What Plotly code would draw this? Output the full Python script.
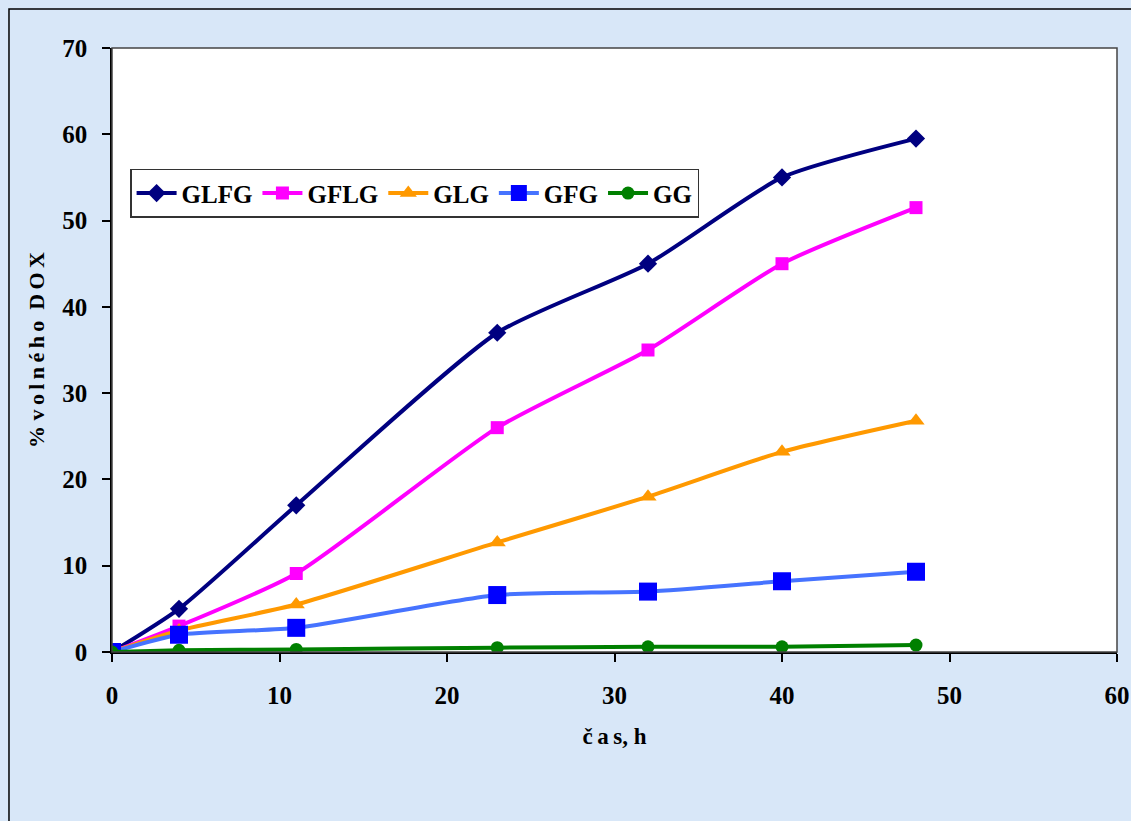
import plotly.graph_objects as go

# sampling times (h)
cas_h = [0, 4, 11, 23, 32, 40, 48]

# % of released DOX per formulation
glfg = [0, 5.0, 17.0, 37.0, 45.0, 55.0, 59.5]
gflg = [0, 3.0, 9.1, 26.0, 35.0, 45.0, 51.5]
glg = [0, 2.5, 5.5, 12.7, 18.0, 23.2, 26.8]
gfg = [0, 2.0, 2.8, 6.6, 7.0, 8.2, 9.3]
gg = [0, 0.2, 0.3, 0.5, 0.6, 0.6, 0.8]

x_ticks = [0, 10, 20, 30, 40, 50, 60]
y_ticks = [0, 10, 20, 30, 40, 50, 60, 70]

series = [
    ("GLFG", glfg, "#000080", "#000080", "diamond", 14),
    ("GFLG", gflg, "#FF00FF", "#FF00FF", "square", 13),
    ("GLG", glg, "#FF9900", "#FF9900", "triangle-up", 15),
    ("GFG", gfg, "#4673FF", "#0000FF", "square", 18),
    ("GG", gg, "#008000", "#008000", "circle", 13),
]

FONT = "Liberation Serif"
T = "\u2009"  # thin space used for letter spacing in titles

fig = go.Figure()
for name, vals, lcol, mcol, sym, size in series:
    fig.add_trace(go.Scatter(
        x=cas_h, y=vals, name=name, mode="lines+markers",
        line=dict(color=lcol, width=4, shape="spline", smoothing=0.6),
        marker=dict(color=mcol, symbol=sym, size=size, line=dict(width=0)),
    ))

# outer frame of the chart object
fig.add_shape(type="rect", xref="paper", yref="paper",
              x0=-0.1025, y0=-0.35, x1=1.05, y1=1.0646,
              line=dict(color="black", width=1.5), fillcolor="rgba(0,0,0,0)",
              layer="below")
# plot area border
fig.add_shape(type="rect", xref="paper", yref="paper",
              x0=0, y0=0, x1=1, y1=1,
              line=dict(color="#444444", width=1.5), fillcolor="rgba(0,0,0,0)")

x_title = "č" + T + "a" + T + "s, h"
y_title = "% " + T.join("volného") + "  " + T.join("DOX")

fig.update_layout(
    width=1131, height=821,
    margin=dict(l=112, r=14, t=48, b=169, autoexpand=False),
    paper_bgcolor="#D8E7F8",
    plot_bgcolor="white",
    font=dict(family=FONT, color="black", size=20),
    showlegend=True,
    legend=dict(
        orientation="h", x=0.018, y=0.8, xanchor="left", yanchor="top",
        bgcolor="white", bordercolor="#333333", borderwidth=1.5,
        font=dict(family=FONT, size=25, color="black", weight="bold"),
        itemwidth=40, tracegroupgap=0,
    ),
    xaxis=dict(
        range=[0, 60], tickvals=x_ticks, showgrid=False, zeroline=False,
        showline=True, linecolor="black", linewidth=1.5, automargin=False,
        ticks="outside", ticklen=8, tickcolor="black", tickwidth=1.5,
        ticklabelstandoff=12,
        tickfont=dict(family=FONT, size=25, weight="bold"),
        title=dict(text=x_title, standoff=20,
                   font=dict(family=FONT, size=23, weight="bold")),
    ),
    yaxis=dict(
        range=[0, 70], tickvals=y_ticks, showgrid=False, zeroline=False,
        showline=True, linecolor="black", linewidth=1.5, automargin=False,
        ticks="outside", ticklen=8, tickcolor="black", tickwidth=1.5,
        ticklabelstandoff=10,
        tickfont=dict(family=FONT, size=25, weight="bold"),
        title=dict(text=y_title, standoff=12,
                   font=dict(family=FONT, size=22, weight="bold")),
    ),
)

fig.write_html("out.html")
